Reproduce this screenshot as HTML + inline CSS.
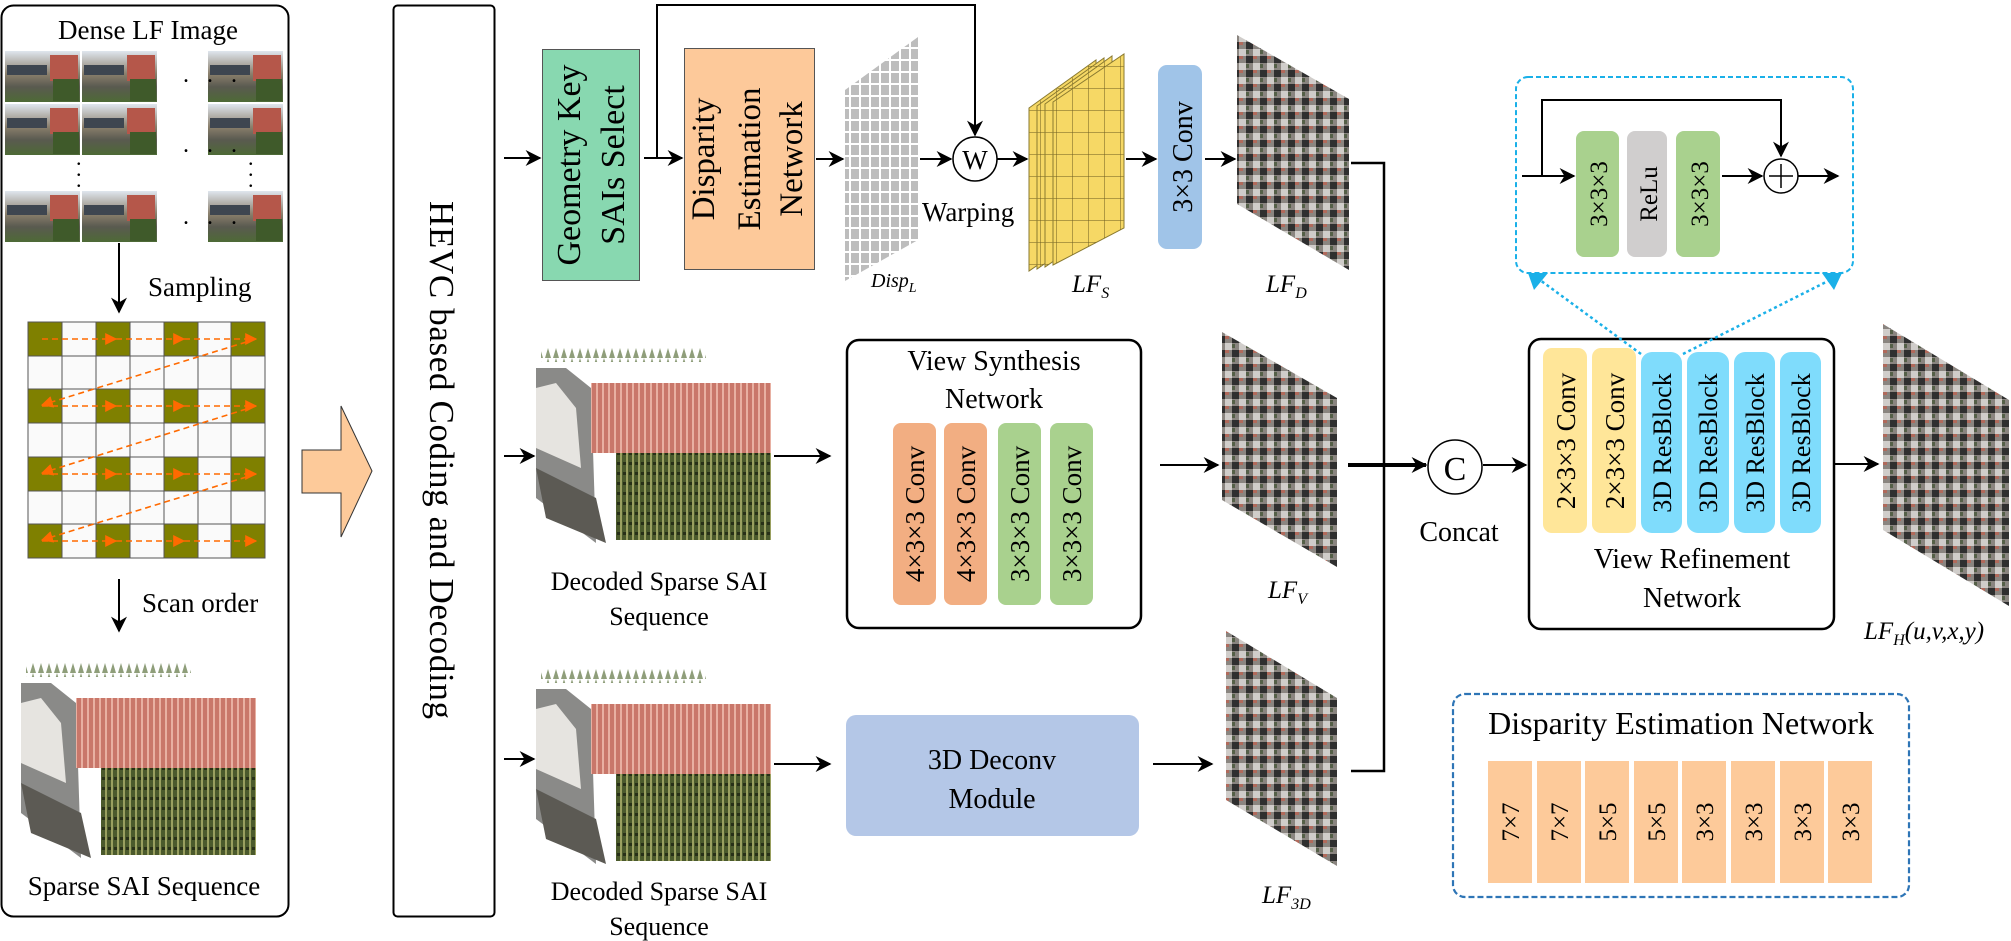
<!DOCTYPE html>
<html><head><meta charset="utf-8"><style>
html,body{margin:0;padding:0;background:#fff;}
svg{display:block;}
text{font-family:"Liberation Serif",serif;fill:#000;}
</style></head><body>
<svg width="2011" height="941" viewBox="0 0 2011 941" xmlns="http://www.w3.org/2000/svg">
<defs>
<marker id="a" viewBox="0 0 10 10" refX="9" refY="5" markerWidth="16" markerHeight="16" orient="auto" markerUnits="userSpaceOnUse"><path d="M0,0 L10,5 L0,10 L3,5 z" fill="#000"/></marker>
<marker id="ao" viewBox="0 0 10 10" refX="9" refY="5" markerWidth="12" markerHeight="12" orient="auto" markerUnits="userSpaceOnUse"><path d="M0,0 L10,5 L0,10 z" fill="#ff6a00"/></marker>
<pattern id="mos" width="14" height="14" patternUnits="userSpaceOnUse">
<rect width="14" height="14" fill="#8a8580"/>
<rect width="7" height="7" fill="#2f2f2f"/><rect x="7" y="7" width="7" height="7" fill="#d0cdca"/>
<rect x="7" y="0" width="4" height="3" fill="#b06a5c"/><rect x="0" y="8" width="3" height="4" fill="#556048"/>
</pattern>
<pattern id="dgrid" width="10" height="12" patternUnits="userSpaceOnUse">
<rect width="10" height="12" fill="#fff"/><rect x="1" y="1" width="8" height="10" fill="#bdbdbd"/>
</pattern>
<pattern id="ygrid" width="16" height="22" patternUnits="userSpaceOnUse">
<rect width="16" height="22" fill="#f6d865"/><path d="M0,0 H16 M0,0 V22" stroke="#6b5a20" stroke-width="1"/>
</pattern>
<pattern id="bstripe" width="6" height="10" patternUnits="userSpaceOnUse"><rect width="6" height="10" fill="#c9776a"/><rect width="2" height="10" fill="#e8b0a2"/></pattern>
<pattern id="gstripe" width="6" height="10" patternUnits="userSpaceOnUse"><rect width="6" height="10" fill="#4b5a2c"/><rect width="2" height="10" fill="#9aa060"/><rect x="3" y="4" width="3" height="3" fill="#283018"/></pattern>
<pattern id="tstripe" width="8" height="10" patternUnits="userSpaceOnUse"><rect width="8" height="10" fill="#fff"/><path d="M1,10 L4,0 L7,10" fill="#8f9e7a"/></pattern>
<linearGradient id="photo" x1="0" y1="0" x2="0" y2="1"><stop offset="0" stop-color="#dfe6ee"/><stop offset="0.45" stop-color="#8a7f6c"/><stop offset="0.7" stop-color="#5a5a50"/><stop offset="1" stop-color="#4e6a36"/></linearGradient>
<g id="thumb">
<rect width="75" height="51" fill="url(#photo)"/>
<rect x="45" y="4" width="28" height="26" fill="#b5574a"/>
<rect x="2" y="14" width="40" height="10" fill="#3e4650"/>
<rect x="48" y="28" width="26" height="22" fill="#3f5a2a"/>
</g>
<g id="sai">
<rect x="5" y="0" width="165" height="14" fill="url(#tstripe)"/>
<polygon points="0,20 30,20 55,40 60,195 0,150" fill="#8a8a88"/>
<polygon points="0,40 20,35 40,60 45,120 0,100" fill="#e6e4e0"/>
<polygon points="0,120 60,150 70,195 10,170" fill="#5c5a54"/>
<rect x="55" y="35" width="180" height="70" fill="url(#bstripe)"/>
<rect x="80" y="105" width="155" height="87" fill="url(#gstripe)"/>
</g>
</defs>

<!-- Left panel -->
<rect x="1.5" y="5.5" width="287" height="911" rx="12" fill="none" stroke="#000" stroke-width="2"/>
<text x="148" y="39" font-size="27" text-anchor="middle">Dense LF Image</text>
<use href="#thumb" x="5" y="51"/><use href="#thumb" x="82" y="51"/><use href="#thumb" x="208" y="51"/>
<use href="#thumb" x="5" y="104"/><use href="#thumb" x="82" y="104"/><use href="#thumb" x="208" y="104"/>
<use href="#thumb" x="5" y="191"/><use href="#thumb" x="82" y="191"/><use href="#thumb" x="208" y="191"/>
<text x="183" y="82" font-size="24" letter-spacing="6">. . .</text>
<text x="183" y="152" font-size="24" letter-spacing="6">. . .</text>
<text x="183" y="224" font-size="24" letter-spacing="6">. . .</text>
<text x="76" y="165" font-size="22">.</text><text x="76" y="176" font-size="22">.</text><text x="76" y="187" font-size="22">.</text>
<text x="248" y="165" font-size="22">.</text><text x="248" y="176" font-size="22">.</text><text x="248" y="187" font-size="22">.</text>
<line x1="119" y1="243" x2="119" y2="312" stroke="#000" stroke-width="2" marker-end="url(#a)"/>
<text x="148" y="296" font-size="27">Sampling</text>
<g stroke="#555" stroke-width="1">
<rect x="28" y="322" width="237" height="236" fill="#fafafa"/>
<g fill="#7f8000">
<rect x="28" y="322" width="34" height="34"/><rect x="96" y="322" width="34" height="34"/><rect x="164" y="322" width="34" height="34"/><rect x="231" y="322" width="34" height="34"/>
<rect x="28" y="389" width="34" height="34"/><rect x="96" y="389" width="34" height="34"/><rect x="164" y="389" width="34" height="34"/><rect x="231" y="389" width="34" height="34"/>
<rect x="28" y="457" width="34" height="34"/><rect x="96" y="457" width="34" height="34"/><rect x="164" y="457" width="34" height="34"/><rect x="231" y="457" width="34" height="34"/>
<rect x="28" y="524" width="34" height="34"/><rect x="96" y="524" width="34" height="34"/><rect x="164" y="524" width="34" height="34"/><rect x="231" y="524" width="34" height="34"/>
</g>
<path d="M62,322V558M96,322V558M130,322V558M164,322V558M198,322V558M231,322V558M28,356H265M28,389H265M28,423H265M28,457H265M28,491H265M28,524H265" fill="none"/>
</g>
<g stroke="#ff6a00" stroke-width="1.6" stroke-dasharray="6,4" fill="none">
<line x1="42" y1="339" x2="116" y2="339" marker-end="url(#ao)"/><line x1="116" y1="339" x2="184" y2="339" marker-end="url(#ao)"/><line x1="184" y1="339" x2="256" y2="339" marker-end="url(#ao)"/>
<line x1="256" y1="339" x2="42" y2="405" marker-end="url(#ao)"/>
<line x1="42" y1="406" x2="116" y2="406" marker-end="url(#ao)"/><line x1="116" y1="406" x2="184" y2="406" marker-end="url(#ao)"/><line x1="184" y1="406" x2="256" y2="406" marker-end="url(#ao)"/>
<line x1="256" y1="406" x2="42" y2="473" marker-end="url(#ao)"/>
<line x1="42" y1="474" x2="116" y2="474" marker-end="url(#ao)"/><line x1="116" y1="474" x2="184" y2="474" marker-end="url(#ao)"/><line x1="184" y1="474" x2="256" y2="474" marker-end="url(#ao)"/>
<line x1="256" y1="474" x2="42" y2="540" marker-end="url(#ao)"/>
<line x1="42" y1="541" x2="116" y2="541" marker-end="url(#ao)"/><line x1="116" y1="541" x2="184" y2="541" marker-end="url(#ao)"/><line x1="184" y1="541" x2="256" y2="541" marker-end="url(#ao)"/>
</g>
<line x1="119" y1="579" x2="119" y2="631" stroke="#000" stroke-width="2" marker-end="url(#a)"/>
<text x="142" y="612" font-size="27">Scan order</text>
<use href="#sai" x="21" y="663"/>
<text x="144" y="895" font-size="27" text-anchor="middle">Sparse SAI Sequence</text>

<polygon points="302,450 341,450 341,406 372,471 341,537 341,493 302,493" fill="#fdca9a" stroke="#333" stroke-width="1"/>

<rect x="393.5" y="5.5" width="101" height="911" rx="4" fill="none" stroke="#000" stroke-width="2"/>
<text transform="translate(430,460) rotate(90)" font-size="35" text-anchor="middle" textLength="518">HEVC based Coding and Decoding</text>

<!-- Row 1 -->
<line x1="504" y1="158" x2="540" y2="158" stroke="#000" stroke-width="2" marker-end="url(#a)"/>
<rect x="542.5" y="49.5" width="97" height="231" fill="#88d8b0" stroke="#555"/>
<text transform="translate(580,165) rotate(-90)" font-size="34" text-anchor="middle">Geometry Key</text>
<text transform="translate(624,165) rotate(-90)" font-size="34" text-anchor="middle">SAIs Select</text>
<line x1="644" y1="158" x2="682" y2="158" stroke="#000" stroke-width="2" marker-end="url(#a)"/>
<polyline points="657,158 657,5 975,5 975,135" fill="none" stroke="#000" stroke-width="2" marker-end="url(#a)"/>
<rect x="684.5" y="48.5" width="130" height="221" fill="#fdc99a" stroke="#555"/>
<text transform="translate(714,159) rotate(-90)" font-size="33" text-anchor="middle">Disparity</text>
<text transform="translate(760,159) rotate(-90)" font-size="33" text-anchor="middle">Estimation</text>
<text transform="translate(802,159) rotate(-90)" font-size="33" text-anchor="middle">Network</text>
<line x1="816" y1="159" x2="843" y2="159" stroke="#000" stroke-width="2" marker-end="url(#a)"/>
<polygon points="845,90 918,37 918,240 845,281" fill="url(#dgrid)"/>
<text x="871" y="287" font-size="20" font-style="italic">Disp<tspan font-size="14" dy="5">L</tspan></text>
<line x1="920" y1="159" x2="951" y2="159" stroke="#000" stroke-width="2" marker-end="url(#a)"/>
<circle cx="975" cy="159" r="22" fill="#fff" stroke="#000" stroke-width="1.5"/>
<text x="975" y="169" font-size="27" text-anchor="middle">W</text>
<text x="922" y="221" font-size="27">Warping</text>
<line x1="997" y1="159" x2="1027" y2="159" stroke="#000" stroke-width="2" marker-end="url(#a)"/>
<g stroke="#8a7a30" stroke-width="1">
<polygon points="1029,108 1096,60 1096,225 1029,271" fill="url(#ygrid)"/>
<polygon points="1037,106 1104,58 1104,223 1037,269" fill="url(#ygrid)"/>
<polygon points="1045,104 1112,56 1112,221 1045,267" fill="url(#ygrid)"/>
<polygon points="1053,102 1124,54 1124,228 1053,265" fill="url(#ygrid)"/>
</g>
<text x="1072" y="292" font-size="25" font-style="italic">LF<tspan font-size="16" dy="6">S</tspan></text>
<line x1="1126" y1="159" x2="1156" y2="159" stroke="#000" stroke-width="2" marker-end="url(#a)"/>
<rect x="1158" y="65" width="44" height="184" rx="9" fill="#a0c4e8"/>
<text transform="translate(1192,157) rotate(-90)" font-size="28" text-anchor="middle">3×3 Conv</text>
<line x1="1205" y1="159" x2="1235" y2="159" stroke="#000" stroke-width="2" marker-end="url(#a)"/>
<polygon points="1237,35 1349,99 1349,270 1237,204" fill="url(#mos)"/>
<text x="1266" y="292" font-size="25" font-style="italic">LF<tspan font-size="16" dy="6">D</tspan></text>

<!-- Row 2 -->
<line x1="504" y1="456" x2="534" y2="456" stroke="#000" stroke-width="2" marker-end="url(#a)"/>
<use href="#sai" x="536" y="348"/>
<line x1="774" y1="456" x2="830" y2="456" stroke="#000" stroke-width="2" marker-end="url(#a)"/>
<text x="659" y="590" font-size="26" text-anchor="middle">Decoded Sparse SAI</text>
<text x="659" y="625" font-size="26" text-anchor="middle">Sequence</text>
<rect x="847" y="340" width="294" height="288" rx="12" fill="none" stroke="#000" stroke-width="2.5"/>
<text x="994" y="370" font-size="28" text-anchor="middle">View Synthesis</text>
<text x="994" y="408" font-size="28" text-anchor="middle">Network</text>
<rect x="893" y="423" width="43" height="182" rx="8" fill="#f2ae82"/>
<rect x="944" y="423" width="43" height="182" rx="8" fill="#f2ae82"/>
<rect x="998" y="423" width="43" height="182" rx="8" fill="#a9d18e"/>
<rect x="1050" y="423" width="43" height="182" rx="8" fill="#a9d18e"/>
<text transform="translate(924,514) rotate(-90)" font-size="27" text-anchor="middle">4×3×3 Conv</text>
<text transform="translate(975,514) rotate(-90)" font-size="27" text-anchor="middle">4×3×3 Conv</text>
<text transform="translate(1029,514) rotate(-90)" font-size="27" text-anchor="middle">3×3×3 Conv</text>
<text transform="translate(1081,514) rotate(-90)" font-size="27" text-anchor="middle">3×3×3 Conv</text>
<line x1="1160" y1="465" x2="1218" y2="465" stroke="#000" stroke-width="2" marker-end="url(#a)"/>
<polygon points="1222,332 1337,398 1337,567 1222,500" fill="url(#mos)"/>
<text x="1268" y="598" font-size="25" font-style="italic">LF<tspan font-size="16" dy="6">V</tspan></text>

<!-- Row 3 -->
<line x1="504" y1="759" x2="534" y2="759" stroke="#000" stroke-width="2" marker-end="url(#a)"/>
<use href="#sai" x="536" y="669"/>
<line x1="774" y1="764" x2="830" y2="764" stroke="#000" stroke-width="2" marker-end="url(#a)"/>
<text x="659" y="900" font-size="26" text-anchor="middle">Decoded Sparse SAI</text>
<text x="659" y="935" font-size="26" text-anchor="middle">Sequence</text>
<rect x="846" y="715" width="293" height="121" rx="10" fill="#b4c7e7"/>
<text x="992" y="769" font-size="28" text-anchor="middle">3D Deconv</text>
<text x="992" y="808" font-size="28" text-anchor="middle">Module</text>
<line x1="1153" y1="764" x2="1212" y2="764" stroke="#000" stroke-width="2" marker-end="url(#a)"/>
<polygon points="1226,631 1337,698 1337,866 1226,800" fill="url(#mos)"/>
<text x="1262" y="903" font-size="25" font-style="italic">LF<tspan font-size="16" dy="6">3D</tspan></text>

<!-- Merge -->
<polyline points="1351,163 1384,163 1384,771 1351,771" fill="none" stroke="#000" stroke-width="2.5"/>
<line x1="1348" y1="465" x2="1426" y2="465" stroke="#000" stroke-width="4" marker-end="url(#a)"/>
<circle cx="1455" cy="467" r="27" fill="#fff" stroke="#000" stroke-width="1.5"/>
<text x="1455" y="480" font-size="34" text-anchor="middle">C</text>
<text x="1459" y="541" font-size="28" text-anchor="middle">Concat</text>
<line x1="1483" y1="465" x2="1526" y2="465" stroke="#000" stroke-width="2" marker-end="url(#a)"/>

<!-- VRN -->
<rect x="1529" y="339" width="305" height="290" rx="12" fill="none" stroke="#000" stroke-width="2.5"/>
<rect x="1543" y="348" width="44" height="185" rx="9" fill="#ffe699"/>
<rect x="1592" y="348" width="44" height="185" rx="9" fill="#ffe699"/>
<rect x="1641" y="352" width="41" height="181" rx="11" fill="#7fdcfc"/>
<rect x="1687" y="352" width="42" height="181" rx="11" fill="#7fdcfc"/>
<rect x="1734" y="352" width="41" height="181" rx="11" fill="#7fdcfc"/>
<rect x="1780" y="352" width="41" height="181" rx="11" fill="#7fdcfc"/>
<text transform="translate(1575,441) rotate(-90)" font-size="27" text-anchor="middle">2×3×3 Conv</text>
<text transform="translate(1624,441) rotate(-90)" font-size="27" text-anchor="middle">2×3×3 Conv</text>
<text transform="translate(1671,443) rotate(-90)" font-size="26" text-anchor="middle">3D ResBlock</text>
<text transform="translate(1717,443) rotate(-90)" font-size="26" text-anchor="middle">3D ResBlock</text>
<text transform="translate(1764,443) rotate(-90)" font-size="26" text-anchor="middle">3D ResBlock</text>
<text transform="translate(1810,443) rotate(-90)" font-size="26" text-anchor="middle">3D ResBlock</text>
<text x="1692" y="568" font-size="28" text-anchor="middle">View Refinement</text>
<text x="1692" y="607" font-size="28" text-anchor="middle">Network</text>
<line x1="1834" y1="464" x2="1878" y2="464" stroke="#000" stroke-width="2" marker-end="url(#a)"/>
<polygon points="1883,324 2009,400 2009,606 1883,530" fill="url(#mos)"/>
<text x="1864" y="639" font-size="25" font-style="italic">LF<tspan font-size="16" dy="6">H</tspan><tspan dy="-6">(u,v,x,y)</tspan></text>

<!-- ResBlock detail -->
<rect x="1516" y="77" width="337" height="196" rx="12" fill="none" stroke="#1ab0e8" stroke-width="2" stroke-dasharray="5,3"/>
<polyline points="1542,176 1542,100 1781,100 1781,156" fill="none" stroke="#000" stroke-width="2" marker-end="url(#a)"/>
<line x1="1522" y1="176" x2="1574" y2="176" stroke="#000" stroke-width="2" marker-end="url(#a)"/>
<rect x="1576" y="131" width="43" height="126" rx="8" fill="#a9d18e"/>
<rect x="1627" y="131" width="40" height="126" rx="8" fill="#d0cece"/>
<rect x="1676" y="131" width="44" height="126" rx="8" fill="#a9d18e"/>
<text transform="translate(1607,194) rotate(-90)" font-size="25" text-anchor="middle">3×3×3</text>
<text transform="translate(1657,194) rotate(-90)" font-size="25" text-anchor="middle">ReLu</text>
<text transform="translate(1708,194) rotate(-90)" font-size="25" text-anchor="middle">3×3×3</text>
<line x1="1722" y1="176" x2="1762" y2="176" stroke="#000" stroke-width="2" marker-end="url(#a)"/>
<circle cx="1781" cy="176" r="17" fill="#fff" stroke="#000" stroke-width="1.5"/>
<path d="M1769,176H1793M1781,164V188" stroke="#000" stroke-width="1.5"/>
<line x1="1798" y1="176" x2="1838" y2="176" stroke="#000" stroke-width="2" marker-end="url(#a)"/>
<g stroke="#1ab0e8" stroke-width="2.5" stroke-dasharray="3,3">
<line x1="1641" y1="354" x2="1540" y2="280"/>
<line x1="1683" y1="354" x2="1830" y2="280"/>
</g>
<polygon points="1528,273 1548,273 1534,290" fill="#1ab0e8"/>
<polygon points="1822,273 1842,273 1834,290" fill="#1ab0e8"/>

<!-- DEN legend -->
<rect x="1453" y="694" width="456" height="203" rx="12" fill="none" stroke="#2e75b6" stroke-width="2.2" stroke-dasharray="6,3"/>
<text x="1681" y="734" font-size="32" text-anchor="middle">Disparity Estimation Network</text>
<g fill="#fdca9a">
<rect x="1488" y="761" width="44" height="122"/><rect x="1537" y="761" width="44" height="122"/>
<rect x="1585" y="761" width="44" height="122"/><rect x="1634" y="761" width="44" height="122"/>
<rect x="1682" y="761" width="44" height="122"/><rect x="1731" y="761" width="44" height="122"/>
<rect x="1780" y="761" width="44" height="122"/><rect x="1828" y="761" width="44" height="122"/>
</g>
<g font-size="25" text-anchor="middle">
<text transform="translate(1519,822) rotate(-90)">7×7</text><text transform="translate(1568,822) rotate(-90)">7×7</text>
<text transform="translate(1616,822) rotate(-90)">5×5</text><text transform="translate(1665,822) rotate(-90)">5×5</text>
<text transform="translate(1713,822) rotate(-90)">3×3</text><text transform="translate(1762,822) rotate(-90)">3×3</text>
<text transform="translate(1811,822) rotate(-90)">3×3</text><text transform="translate(1859,822) rotate(-90)">3×3</text>
</g>
</svg>
</body></html>
